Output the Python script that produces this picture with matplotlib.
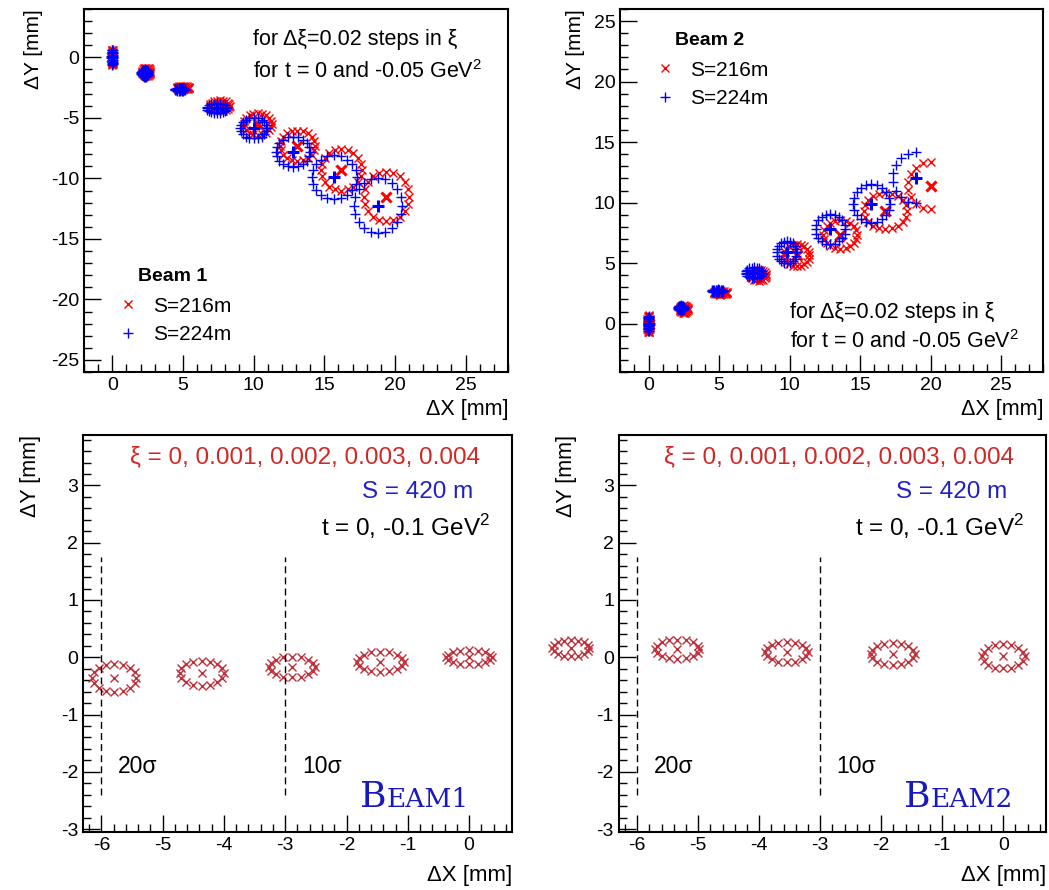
import numpy as np
import matplotlib
matplotlib.use("Agg")
import matplotlib.pyplot as plt
from matplotlib.ticker import MultipleLocator
from matplotlib.lines import Line2D

plt.rcParams['font.family'] = ['Liberation Sans', 'DejaVu Sans']
plt.rcParams['mathtext.fontset'] = 'custom'
plt.rcParams['mathtext.rm'] = 'Liberation Sans'
plt.rcParams['axes.unicode_minus'] = False

# Datos: centros y semiejes de cada anillo (t=0 centro, t=-0.05 anillo)
# Beam 1, S=216m
b1_216_cx = [0.0, 2.4, 5.0, 7.6, 10.3, 13.1, 16.2, 19.4]
b1_216_cy = [0.0, -1.2, -2.5, -4.0, -5.5, -7.3, -9.3, -11.5]
b1_216_rx = [0.05, 0.3, 0.45, 0.7, 1.0, 1.25, 1.45, 1.6]
b1_216_ry = [0.6, 0.35, 0.15, 0.45, 0.9, 1.25, 1.7, 2.05]
# Beam 1, S=224m
b1_224_cx = [0.0, 2.3, 4.8, 7.4, 10.0, 12.8, 15.7, 18.8]
b1_224_cy = [0.0, -1.3, -2.65, -4.2, -5.85, -7.8, -9.9, -12.25]
b1_224_rx = [0.05, 0.25, 0.35, 0.7, 0.95, 1.2, 1.6, 1.7]
b1_224_ry = [0.6, 0.3, 0.12, 0.4, 0.85, 1.25, 1.8, 2.3]
# Beam 2, S=216m
b2_216_cx = [0.0, 2.5, 5.1, 7.8, 10.5, 13.6, 16.8, 20.0]
b2_216_cy = [0.0, 1.2, 2.55, 4.0, 5.65, 7.35, 9.3, 11.4]
b2_216_rx = [0.1, 0.3, 0.45, 0.55, 0.9, 1.2, 1.5, 1.6]
b2_216_ry = [0.7, 0.3, 0.15, 0.45, 0.9, 1.2, 1.5, 1.95]
# Beam 2, S=224m
b2_224_cx = [0.0, 2.3, 4.9, 7.5, 9.8, 12.9, 15.8, 19.0]
b2_224_cy = [0.0, 1.3, 2.7, 4.2, 5.9, 7.8, 9.9, 12.05]
b2_224_rx = [0.05, 0.2, 0.4, 0.6, 0.7, 1.05, 1.3, 1.7]
b2_224_ry = [0.6, 0.2, 0.12, 0.45, 0.9, 1.25, 1.6, 2.1]
# arco visible de cada anillo (grados); el ultimo de Beam 2 solo la mitad izquierda
b2_arc_start = [0, 0, 0, 0, 0, 0, 0, 90]
b2_arc_end = [360, 360, 360, 360, 360, 360, 360, 270]

# S = 420 m, xi = 0 ... 0.004
s420_b1_cx = [-5.79, -4.36, -2.89, -1.45, 0.0]
s420_b1_cy = [-0.36, -0.28, -0.17, -0.08, 0.0]
s420_b1_rx = [0.36, 0.36, 0.37, 0.38, 0.37]
s420_b1_ry = [0.25, 0.22, 0.18, 0.18, 0.12]
s420_b2_cx = [-7.09, -5.34, -3.55, -1.81, 0.0]
s420_b2_cy = [0.16, 0.14, 0.09, 0.055, 0.015]
s420_b2_rx = [0.30, 0.36, 0.35, 0.36, 0.35]
s420_b2_ry = [0.14, 0.17, 0.18, 0.19, 0.21]

sigma_x = [-6, -3]
sigma_lbl = ["20σ", "10σ"]

RED = '#ff0000'
BLUE = '#0000ff'
DRED = '#c0303a'
BEAMBLUE = '#1818c0'


def ring(cx, cy, rx, ry, n, a0=0, a1=360):
    full = (a1 - a0) >= 360
    ang = np.deg2rad(np.linspace(a0, a1, n, endpoint=not full))
    return cx + rx * np.cos(ang), cy + ry * np.sin(ang)


def root_axes(ax, xmaj, xmin, ymaj, ymin, big=12, small=6):
    ax.xaxis.set_major_locator(MultipleLocator(xmaj))
    ax.xaxis.set_minor_locator(MultipleLocator(xmin))
    ax.yaxis.set_major_locator(MultipleLocator(ymaj))
    ax.yaxis.set_minor_locator(MultipleLocator(ymin))
    ax.tick_params(which='both', direction='in', top=False, right=False, labelsize=14, width=1)
    ax.tick_params(which='major', length=big)
    ax.tick_params(which='minor', length=small)
    for s in ax.spines.values():
        s.set_linewidth(1.5)


def draw_top(ax, d216, d224, arcs, marker_size=6):
    for cx, cy, rx, ry, a0, a1 in zip(*d216, *arcs):
        n = 20 if a1 - a0 >= 360 else 10
        x, y = ring(cx, cy, rx, ry, n, a0, a1)
        ax.plot(x, y, 'x', color=RED, ms=marker_size, mew=1, ls='none')
        ax.plot(cx, cy, 'x', color=RED, ms=7, mew=2.2)
    for cx, cy, rx, ry, a0, a1 in zip(*d224, *arcs):
        n = 20 if a1 - a0 >= 360 else 10
        x, y = ring(cx, cy, rx, ry, n, a0, a1)
        ax.plot(x, y, '+', color=BLUE, ms=marker_size + 1, mew=1, ls='none')
        ax.plot(cx, cy, '+', color=BLUE, ms=8, mew=2.2)


fig = plt.figure(figsize=(10.49, 8.90), dpi=100)

ax1 = fig.add_axes([0.0801, 0.582, 0.4042, 0.4079])
ax2 = fig.add_axes([0.5914, 0.582, 0.4032, 0.4079])
ax3 = fig.add_axes([0.0791, 0.0652, 0.409, 0.446])
ax4 = fig.add_axes([0.5899, 0.0652, 0.4072, 0.446])

full = ([0] * 8, [360] * 8)

# --- Beam 1, 216/224 m ---
draw_top(ax1, (b1_216_cx, b1_216_cy, b1_216_rx, b1_216_ry),
         (b1_224_cx, b1_224_cy, b1_224_rx, b1_224_ry), full)
ax1.set_xlim(-2, 28)
ax1.set_ylim(-26, 4)
root_axes(ax1, 5, 1, 5, 1)
ax1.text(0.399, 0.915, "for Δξ=0.02 steps in ξ", transform=ax1.transAxes,
         fontsize=15.5, va='center')
ax1.text(0.399, 0.829, r"for t = 0 and -0.05 GeV$^{2}$", transform=ax1.transAxes,
         fontsize=15.5, va='center')
ax1.text(0.128, 0.262, "Beam 1", transform=ax1.transAxes, fontsize=14,
         fontweight='bold', va='center')

# --- Beam 2, 216/224 m ---
draw_top(ax2, (b2_216_cx, b2_216_cy, b2_216_rx, b2_216_ry),
         (b2_224_cx, b2_224_cy, b2_224_rx, b2_224_ry), (b2_arc_start, b2_arc_end))
ax2.set_xlim(-2, 28)
ax2.set_ylim(-4, 26)
root_axes(ax2, 5, 1, 5, 1)
ax2.text(0.40, 0.165, "for Δξ=0.02 steps in ξ", transform=ax2.transAxes,
         fontsize=15.5, va='center')
ax2.text(0.40, 0.083, r"for t = 0 and -0.05 GeV$^{2}$", transform=ax2.transAxes,
         fontsize=15.5, va='center')
ax2.text(0.128, 0.912, "Beam 2", transform=ax2.transAxes, fontsize=14,
         fontweight='bold', va='center')

handles = [Line2D([], [], marker='x', color=RED, ls='none', ms=6, mew=1),
           Line2D([], [], marker='+', color=BLUE, ls='none', ms=7, mew=1)]
labels = ["S=216m", "S=224m"]
for ax, anchor in ((ax1, (0.08, 0.208)), (ax2, (0.082, 0.858))):
    ax.legend(handles, labels, loc='upper left', bbox_to_anchor=anchor, frameon=False,
              fontsize=15, handlelength=1.0, handletextpad=0.7, labelspacing=0.45,
              borderpad=0, borderaxespad=0)

for ax in (ax1, ax2):
    ax.set_xlabel("ΔX [mm]", loc='right', fontsize=15.5, labelpad=4)
    ax.set_ylabel("ΔY [mm]", loc='top', fontsize=15, labelpad=6)

# --- S = 420 m ---
beam_lbls = []
for ax, cxs, cys, rxs, rys, name, tx in (
        (ax3, s420_b1_cx, s420_b1_cy, s420_b1_rx, s420_b1_ry, "1", 0.646),
        (ax4, s420_b2_cx, s420_b2_cy, s420_b2_rx, s420_b2_ry, "2", 0.668)):
    for cx, cy, rx, ry in zip(cxs, cys, rxs, rys):
        x, y = ring(cx, cy, rx, ry, 16)
        ax.plot(x, y, 'x', color=DRED, ms=5.5, mew=1, ls='none', clip_on=False)
        ax.plot(cx, cy, 'x', color=DRED, ms=5.5, mew=1, clip_on=False)
    for sx, lbl in zip(sigma_x, sigma_lbl):
        ax.plot([sx, sx], [-2.4, 1.75], color='black', lw=1, ls=(0, (5, 3)))
        ax.text(sx + 0.27, -1.91, lbl, fontsize=16.5, va='center')
    ax.set_xlim(-6.3, 0.7)
    ax.set_ylim(-3.05, 3.88)
    root_axes(ax, 1, 0.2, 1, 0.2, big=12, small=6)
    ax.text(0.925, 0.945, "ξ = 0, 0.001, 0.002, 0.003, 0.004", transform=ax.transAxes,
            fontsize=17.5, color='#d02828', ha='right', va='center')
    ax.text(0.909, 0.857, "S = 420 m", transform=ax.transAxes, fontsize=17.5,
            color='#2020c8', ha='right', va='center')
    ax.text(0.949, 0.769, r"t = 0, -0.1 GeV$^{2}$", transform=ax.transAxes, fontsize=17.5,
            color='black', ha='right', va='center')
    tb = ax.text(tx, 0.064, "B", transform=ax.transAxes, fontsize=26, color=BEAMBLUE,
                 family='DejaVu Serif', va='baseline')
    beam_lbls.append((ax, tb, "EAM" + name))
    ax.set_xlabel("ΔX [mm]", loc='right', fontsize=16, labelpad=8)
    ax.set_ylabel("ΔY [mm]", loc='top', fontsize=15.5, labelpad=14)

# versalitas: "EAM1" justo detras de la B
fig.canvas.draw()
for ax, tb, rest in beam_lbls:
    bb = tb.get_window_extent()
    x1 = ax.transAxes.inverted().transform((bb.x1, bb.y0))[0]
    ax.text(x1, 0.064, rest, transform=ax.transAxes, fontsize=19, color=BEAMBLUE,
            family='DejaVu Serif', va='baseline')

fig.savefig("out.png", dpi=100)
